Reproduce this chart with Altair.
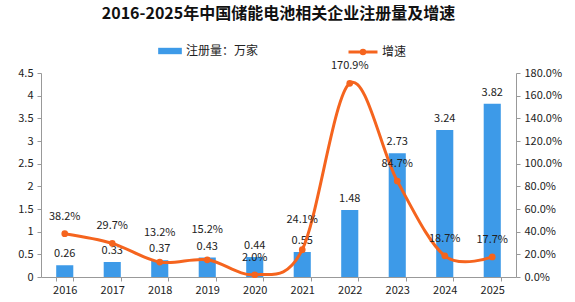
import altair as alt
import pandas as pd

years = ["2016", "2017", "2018", "2019", "2020", "2021", "2022", "2023", "2024", "2025"]
registrations = [0.26, 0.33, 0.37, 0.43, 0.44, 0.55, 1.48, 2.73, 3.24, 3.82]
growth = [38.2, 29.7, 13.2, 15.2, 2.0, 24.1, 170.9, 84.7, 18.7, 17.7]
left_ticks = [0, 0.5, 1, 1.5, 2, 2.5, 3, 3.5, 4, 4.5]
right_ticks = [0, 20, 40, 60, 80, 100, 120, 140, 160, 180]
bar_name = "注册量：万家"
line_name = "增速"
title_text = "2016-2025年中国储能电池相关企业注册量及增速"

BLUE = "#3d9ae8"
ORANGE = "#f5641e"
FONT = "Noto Sans CJK SC"
TXT = "#222222"
AX = "#999999"

df = pd.DataFrame({
    "year": years,
    "reg": registrations,
    "growth": growth,
    "bar_s": [bar_name] * len(years),
    "line_s": [line_name] * len(years),
})

x_axis = alt.Axis(labelAngle=0, tickBand="extent", domainColor=AX,
                  tickColor=AX, tickSize=4, labelPadding=3, labelOverlap=False,
                  labelFontSize=11, labelColor=TXT, labelFont=FONT)
x_scale = alt.Scale(paddingInner=0.64, paddingOuter=0.32)
left_axis = alt.Axis(values=left_ticks, format=".1~f", grid=False, domainColor=AX,
                     labelOverlap=False, tickColor=AX, tickSize=4, labelPadding=4,
                     labelFontSize=11, labelColor=TXT, labelFont=FONT)
right_axis = alt.Axis(orient="right", values=right_ticks,
                      labelExpr="format(datum.value, '.1f') + '%'", grid=False,
                      domainColor=AX, tickColor=AX, tickSize=4, labelOverlap=False,
                      labelPadding=4, labelFontSize=11, labelColor=TXT, labelFont=FONT)

def X():
    return alt.X("year:N", sort=years, title=None, scale=x_scale, axis=x_axis)

yl = alt.Scale(domain=[0, 4.5], nice=False, zero=True)
yr = alt.Scale(domain=[0, 180], nice=False, zero=True)

bars = alt.Chart(df).mark_bar(color=BLUE).encode(
    x=X(),
    y=alt.Y("reg:Q", scale=yl, title=None, axis=left_axis),
    fill=alt.Fill("bar_s:N", scale=alt.Scale(domain=[bar_name], range=[BLUE]),
                  legend=alt.Legend(title=None, orient="none", legendX=117, legendY=-34,
                                    symbolType="M-1,-0.27H1V0.27H-1Z", symbolSize=560,
                                    labelFontSize=12, labelFont=FONT, labelColor=TXT,
                                    symbolStrokeWidth=0, labelOffset=4)),
)

bar_text = alt.Chart(df).mark_text(baseline="bottom", dy=-6, fontSize=11, font=FONT,
                                   color=TXT).encode(
    x=X(),
    y=alt.Y("reg:Q", scale=yl, title=None, axis=left_axis),
    text=alt.Text("reg:Q", format=".2f"),
)

left = alt.layer(bars, bar_text)

line = alt.Chart(df).mark_line(strokeWidth=3, interpolate="cardinal").encode(
    x=X(),
    y=alt.Y("growth:Q", scale=yr, title=None, axis=right_axis),
    stroke=alt.Stroke("line_s:N", scale=alt.Scale(domain=[line_name], range=[ORANGE]),
                      legend=alt.Legend(title=None, orient="none", legendX=306, legendY=-37,
                                        symbolType="M-1,0H1M-0.12,0A0.12,0.12 0 1,0 0.12,0A0.12,0.12 0 1,0 -0.12,0Z",
                                        symbolSize=840, symbolStrokeWidth=3,
                                        symbolFillColor=ORANGE, symbolStrokeColor=ORANGE,
                                        labelFontSize=12, labelFont=FONT, labelColor=TXT,
                                        labelOffset=3)),
)

points = alt.Chart(df).mark_point(filled=True, size=45, color=ORANGE, opacity=1).encode(
    x=X(),
    y=alt.Y("growth:Q", scale=yr, title=None, axis=right_axis),
)

# lift a growth label when it would sit on top of the bar's value label
line_text = alt.Chart(df).transform_calculate(
    lbl="format(datum.growth, '.1f') + '%'",
    ly="(abs(datum.growth / 40 - datum.reg) < 0.3) ? datum.growth + 11 : datum.growth",
).mark_text(baseline="middle", dy=-17, fontSize=11, font=FONT, color=TXT).encode(
    x=X(),
    y=alt.Y("ly:Q", scale=yr, title=None, axis=right_axis),
    text="lbl:N",
)

right = alt.layer(line, points, line_text)

chart = alt.layer(left, right).resolve_scale(
    y="independent", fill="independent", stroke="independent"
).properties(
    width=475, height=204,
    autosize=alt.AutoSizeParams(type="none"),
    padding={"left": 41, "top": 73, "right": 59, "bottom": 25},
    title=alt.TitleParams(title_text, anchor="middle", fontSize=16, fontWeight="bold",
                          font=FONT, color="#111111", offset=14),
    background="white",
).configure_view(stroke=None).configure_axis(labelOverlap=False)

chart.save("out.html", embed_options={"renderer": "svg", "actions": False})
